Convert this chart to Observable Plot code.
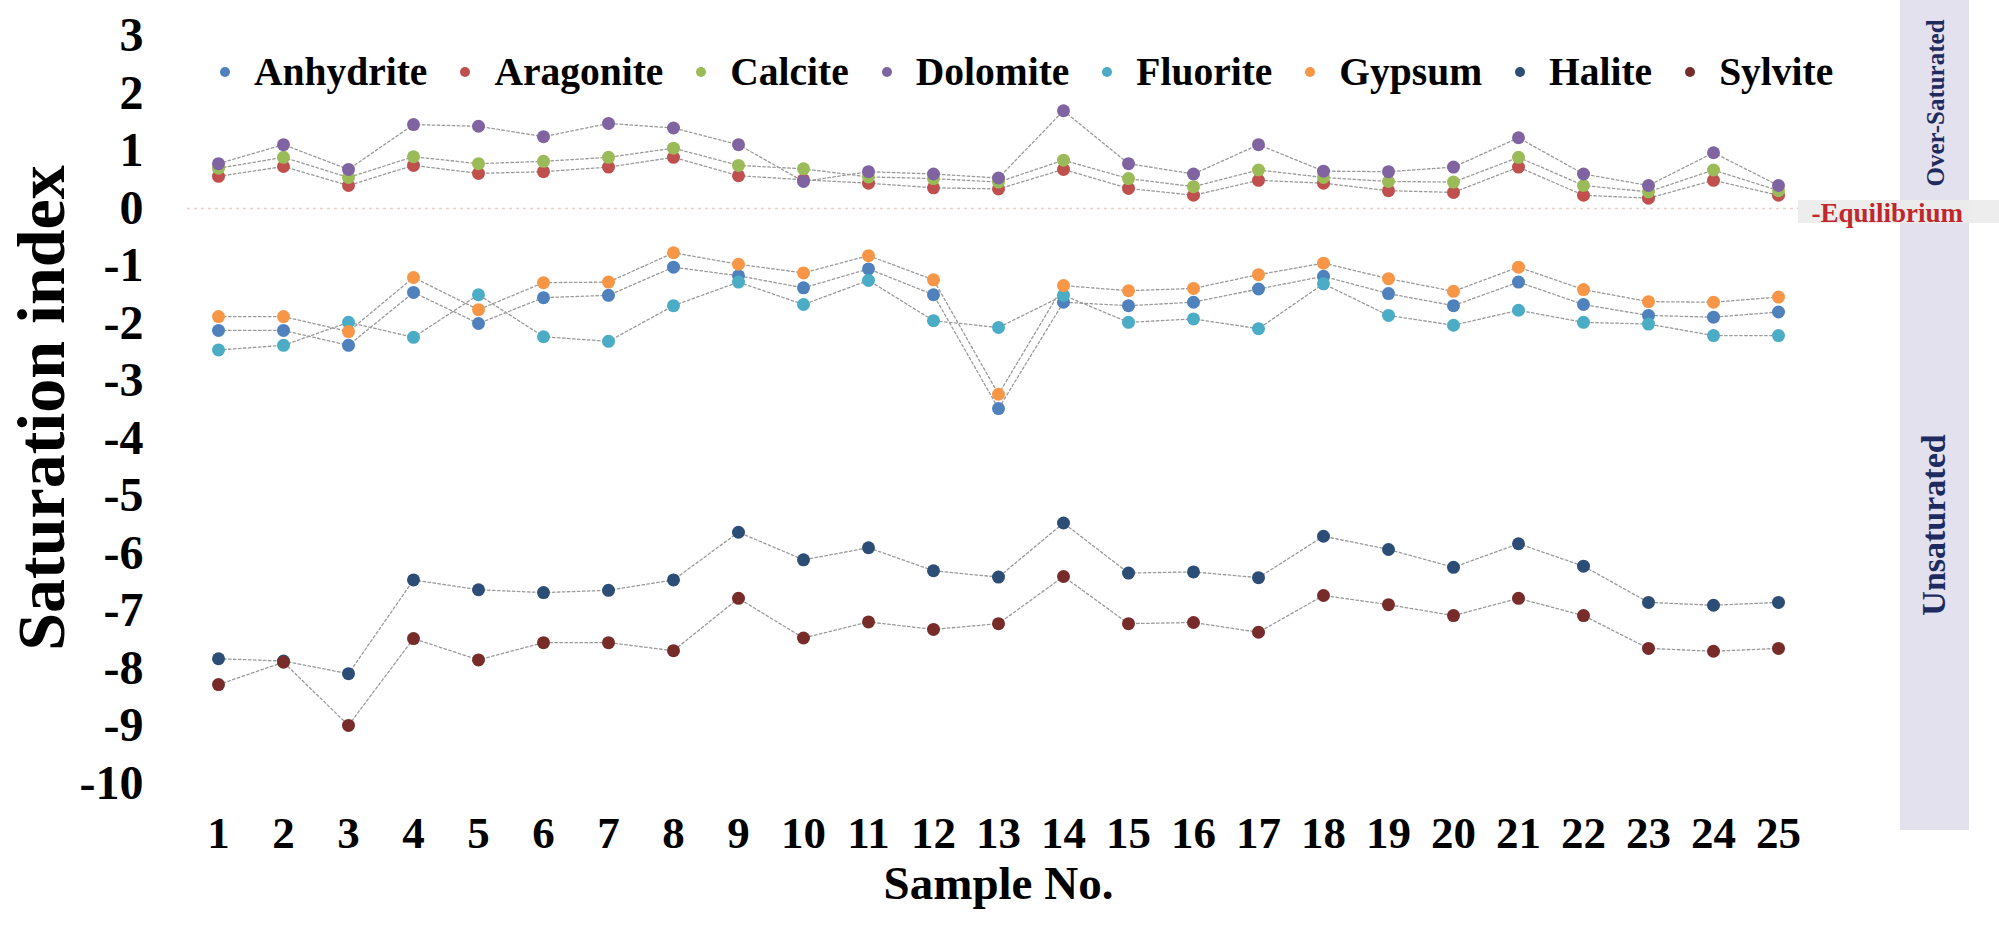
<!DOCTYPE html>
<html><head><meta charset="utf-8">
<script src="https://cdn.jsdelivr.net/npm/d3@7"></script>
<script src="https://cdn.jsdelivr.net/npm/@observablehq/plot@0.6"></script>
<style>
body{margin:0;background:#fff;}
#wrap{position:relative;width:1999px;height:925px;overflow:hidden;font-family:'Liberation Serif','Times New Roman',serif;font-weight:bold;}
#band{position:absolute;left:1900px;top:0;width:69px;height:830px;background:#e4e1ee;}
#eqbox{position:absolute;left:1798px;top:200px;width:201px;height:23px;background:rgba(236,236,236,0.92);}
.vlab{position:absolute;writing-mode:vertical-rl;transform:translate(-50%,-50%) rotate(180deg);white-space:nowrap;line-height:1;}
#legend{position:absolute;left:220px;top:72px;transform:translateY(-50%);display:flex;align-items:center;font-size:39.5px;white-space:nowrap;color:#000;}
.item{display:flex;align-items:center;margin-right:33px;}
.sw{width:10px;height:10px;border-radius:50%;margin-right:24px;}
#chart{position:absolute;left:0;top:0;}
#chart svg text{font-family:'Liberation Serif','Times New Roman',serif;font-weight:bold;}
</style></head><body>
<div id="wrap">
<div id="band"></div>
<div id="eqbox"></div>
<div class="vlab" style="left:1935px;top:103px;font-size:25px;color:#1d2b5f;">Over-Saturated</div>
<div class="vlab" style="left:1934px;top:525px;font-size:34px;color:#1d2b5f;">Unsaturated</div>
<div id="chart"></div>
<div id="legend"></div>
</div>
<script>
const samples = [1,2,3,4,5,6,7,8,9,10,11,12,13,14,15,16,17,18,19,20,21,22,23,24,25];
const minerals = ["Anhydrite","Aragonite","Calcite","Dolomite","Fluorite","Gypsum","Halite","Sylvite"];
const colors = ["#4F81BD","#C0504D","#9BBB59","#8064A2","#4BACC6","#F79646","#2C4D75","#772C2A"];
const yTicks = [3,2,1,0,-1,-2,-3,-4,-5,-6,-7,-8,-9,-10];
const equilibrium = [0];

const anhydrite = [-2.12,-2.12,-2.38,-1.46,-2.00,-1.55,-1.51,-1.02,-1.17,-1.38,-1.05,-1.50,-3.48,-1.63,-1.69,-1.63,-1.40,-1.18,-1.48,-1.69,-1.28,-1.67,-1.86,-1.89,-1.80];
const aragonite = [0.56,0.73,0.40,0.75,0.61,0.64,0.72,0.89,0.57,0.50,0.44,0.36,0.34,0.68,0.35,0.23,0.49,0.44,0.31,0.28,0.72,0.23,0.18,0.49,0.23];
const calcite = [0.70,0.89,0.54,0.90,0.78,0.82,0.89,1.05,0.75,0.69,0.55,0.52,0.46,0.84,0.52,0.38,0.67,0.54,0.47,0.46,0.89,0.40,0.29,0.67,0.31];
const dolomite = [0.78,1.11,0.68,1.46,1.43,1.25,1.48,1.40,1.11,0.47,0.64,0.60,0.53,1.70,0.78,0.60,1.11,0.65,0.64,0.72,1.23,0.60,0.40,0.97,0.40];
const fluorite = [-2.46,-2.38,-1.98,-2.24,-1.50,-2.23,-2.31,-1.69,-1.28,-1.67,-1.25,-1.95,-2.07,-1.51,-1.98,-1.92,-2.09,-1.31,-1.86,-2.03,-1.77,-1.98,-2.01,-2.21,-2.21];
const gypsum = [-1.88,-1.88,-2.14,-1.20,-1.76,-1.29,-1.28,-0.77,-0.97,-1.12,-0.82,-1.24,-3.23,-1.34,-1.43,-1.39,-1.15,-0.95,-1.22,-1.44,-1.02,-1.41,-1.62,-1.63,-1.54];
const halite = [-7.83,-7.87,-8.09,-6.46,-6.63,-6.68,-6.64,-6.46,-5.63,-6.11,-5.90,-6.30,-6.41,-5.47,-6.34,-6.32,-6.42,-5.70,-5.93,-6.24,-5.83,-6.22,-6.85,-6.90,-6.85];
const sylvite = [-8.28,-7.89,-8.99,-7.48,-7.85,-7.55,-7.55,-7.69,-6.78,-7.47,-7.19,-7.32,-7.22,-6.40,-7.22,-7.20,-7.37,-6.73,-6.89,-7.08,-6.78,-7.08,-7.65,-7.70,-7.65];

const seriesValues = [anhydrite, aragonite, calcite, dolomite, fluorite, gypsum, halite, sylvite];
const rows = minerals.flatMap((m, i) => seriesValues[i].map((v, j) => ({mineral: m, sample: samples[j], si: v})));

const chart = Plot.plot({
  width: 1999, height: 925,
  marginLeft: 218, marginRight: 221, marginTop: 35.5, marginBottom: 142,
  x: {type: "linear", domain: d3.extent(samples)},
  y: {domain: d3.extent(yTicks)},
  color: {domain: minerals, range: colors},
  style: {background: "transparent", overflow: "visible", fontFamily: "'Liberation Serif','Times New Roman',serif", fontWeight: "bold"},
  marks: [
    Plot.ruleY(equilibrium, {stroke: "#f0cccc", strokeWidth: 1.6, strokeDasharray: "3,4", insetLeft: -31, insetRight: -20}),
    Plot.line(rows, {x: "sample", y: "si", z: "mineral", stroke: "#9a9a9a", strokeWidth: 1.3, strokeDasharray: "2.5,2.5"}),
    Plot.dot(rows, {x: "sample", y: "si", fill: "mineral", r: 6.5}),
    Plot.axisY({ticks: yTicks, tickSize: 0, tickPadding: 75, fontSize: 48, fontWeight: "bold", tickFormat: d => String(d), label: null}),
    Plot.axisX({ticks: samples, tickSize: 0, tickPadding: 33, fontSize: 45, fontWeight: "bold", tickFormat: d => String(d), label: null}),
    Plot.text(["Sample No."], {text: d => d, frameAnchor: "bottom", dy: 115, fontSize: 47, fontWeight: "bold", fill: "black"}),
    Plot.text(equilibrium, {x: () => samples[samples.length - 1], y: d => d, text: () => "-Equilibrium", dx: 33, dy: 5, textAnchor: "start", fill: "#c0272d", fontSize: 27, fontWeight: "bold"})
  ]
});
// y-axis title as rotated SVG text inside the plot's SVG
d3.select(chart).append("text")
  .attr("transform", "translate(64,408) rotate(-90)")
  .attr("text-anchor", "middle")
  .attr("font-size", 68)
  .attr("font-weight", "bold")
  .attr("fill", "black")
  .text("Saturation index");
document.getElementById("chart").appendChild(chart);

const legend = document.getElementById("legend");
minerals.forEach((m, i) => {
  const item = document.createElement("div");
  item.className = "item";
  const sw = document.createElement("span");
  sw.className = "sw";
  sw.style.background = colors[i];
  const lab = document.createElement("span");
  lab.textContent = m;
  item.appendChild(sw);
  item.appendChild(lab);
  legend.appendChild(item);
});
</script>
</body></html>
